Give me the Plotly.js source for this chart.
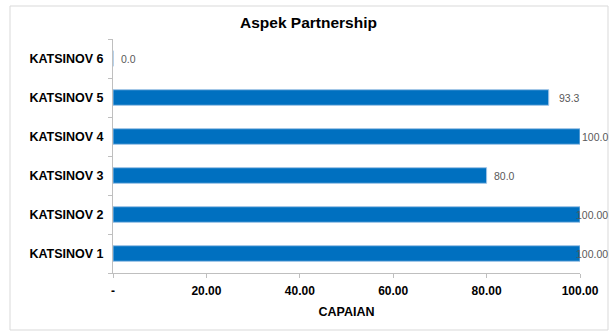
<!DOCTYPE html>
<html>
<head>
<meta charset="utf-8">
<script src="https://cdn.plot.ly/plotly-3.0.1.min.js"></script>
<style>
  html, body { margin: 0; padding: 0; background: #ffffff; }
  #chart { width: 609px; height: 331px; }
</style>
</head>
<body>
<div id="chart"></div>
<script>
var categories = ["KATSINOV 1", "KATSINOV 2", "KATSINOV 3", "KATSINOV 4", "KATSINOV 5", "KATSINOV 6"];
var values = [100, 100, 80, 100, 93.3, 0];
var valueLabels = ["100.00", "100.00", "80.0", "100.0", "93.3", "0.0"];
var xTickVals = [0, 20, 40, 60, 80, 100];
var xTickText = ["-", "20.00", "40.00", "60.00", "80.00", "100.00"];

// styling: horizontal pixel offset of each value label from its bar end
var labelShift = [-6, -6, 5, 0, 8, 6];

var trace = {
  type: "bar",
  orientation: "h",
  y: categories,
  x: values,
  marker: { color: "#0070C0", line: { color: "#9DC3E6", width: 1 } },
  width: 0.4,
  hoverinfo: "none"
};

var annotations = values.map(function (v, i) {
  return {
    x: v, y: categories[i], xref: "x", yref: "y",
    text: valueLabels[i],
    showarrow: false,
    xanchor: "left", yanchor: "middle",
    xshift: labelShift[i],
    font: { family: "Liberation Sans, Arial, sans-serif", size: 10.5, color: "#595959" }
  };
});

var plotL = 113, plotR = 580, plotT = 39, plotB = 273;
var pw = plotR - plotL, ph = plotB - plotT;

var layout = {
  width: 609,
  height: 331,
  margin: { l: plotL, r: 609 - plotR, t: plotT, b: 331 - plotB },
  paper_bgcolor: "#ffffff",
  plot_bgcolor: "#ffffff",
  showlegend: false,
  font: { family: "Liberation Sans, Arial, sans-serif", color: "#000000" },
  title: {
    text: "<b>Aspek Partnership</b>",
    font: { size: 15.5, color: "#000000", family: "Liberation Sans, Arial, sans-serif" },
    x: 308.5 / 609, xanchor: "center", xref: "container",
    y: 1 - 23 / 331, yanchor: "middle", yref: "container"
  },
  xaxis: {
    range: [0, 100],
    tickvals: xTickVals,
    ticktext: xTickText,
    tickfont: { size: 12, color: "#000000", family: "Liberation Sans, Arial, sans-serif", weight: "bold" },
    showgrid: false,
    zeroline: false,
    showline: true,
    linecolor: "#bfbfbf",
    linewidth: 1,
    ticks: "outside",
    ticklen: 4,
    tickcolor: "#bfbfbf",
    ticklabelstandoff: 3,
    title: { text: "<b>CAPAIAN</b>", font: { size: 12.5, color: "#000000" }, standoff: 9 },
    fixedrange: true
  },
  yaxis: {
    type: "category",
    categoryorder: "array",
    categoryarray: categories,
    tickfont: { size: 12.5, color: "#000000", family: "Liberation Sans, Arial, sans-serif", weight: "bold" },
    showgrid: false,
    zeroline: false,
    showline: true,
    linecolor: "#bfbfbf",
    linewidth: 1,
    ticks: "outside",
    tickson: "boundaries",
    ticklen: 4,
    tickcolor: "#bfbfbf",
    ticklabelstandoff: 6,
    fixedrange: true
  },
  annotations: annotations,
  shapes: [{
    type: "rect",
    xref: "paper", yref: "paper",
    x0: (10 - plotL) / pw, x1: (608 - plotL) / pw,
    y0: (plotB - 330) / ph, y1: (plotB - 6) / ph,
    line: { color: "#d9d9d9", width: 1 },
    fillcolor: "rgba(0,0,0,0)",
    layer: "below"
  }]
};

Plotly.newPlot("chart", [trace], layout, { displayModeBar: false, staticPlot: true });
</script>
</body>
</html>
